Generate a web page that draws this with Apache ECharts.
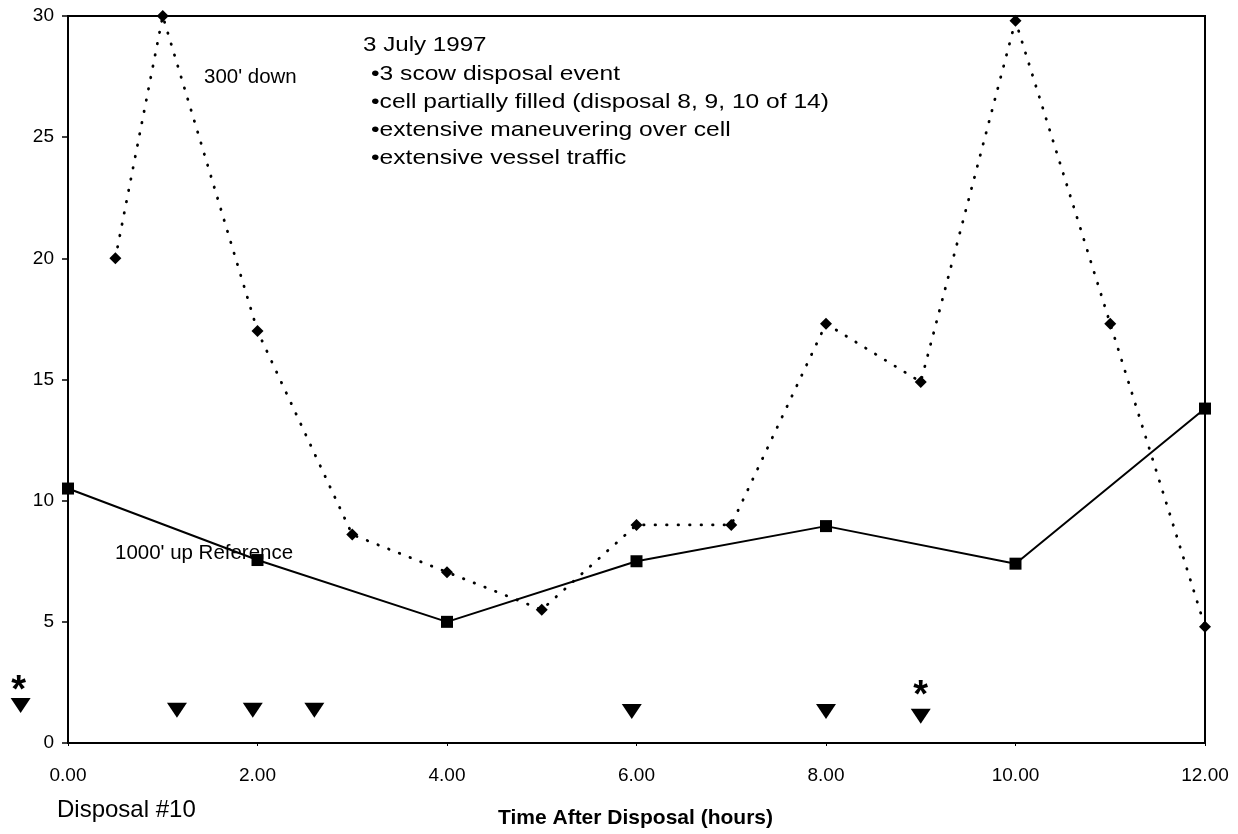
<!DOCTYPE html>
<html>
<head>
<meta charset="utf-8">
<script src="https://cdn.jsdelivr.net/npm/echarts@6/dist/echarts.min.js"></script>
<style>
  html, body { margin: 0; padding: 0; background: #fff; }
  #chart { width: 1238px; height: 834px; }
</style>
</head>
<body>
<div id="chart"></div>
<script>
// ---- data ----
const xTicks = [0, 2, 4, 6, 8, 10, 12];
const yTicks = [0, 5, 10, 15, 20, 25, 30];

const downHours = [0.5, 1, 2, 3, 4, 5, 6, 7, 8, 9, 10, 11, 12];
const downValues = [20, 30, 17, 8.6, 7.05, 5.5, 9.0, 9.0, 17.3, 14.9, 29.8, 17.3, 4.8];

const refHours = [0, 2, 4, 6, 8, 10, 12];
const refValues = [10.5, 7.55, 5.0, 7.5, 8.95, 7.4, 13.8];

const eventHours = [-0.5, 1.15, 1.95, 2.6, 5.95, 8.0, 9.0];
const eventValues = [1.55, 1.35, 1.35, 1.35, 1.3, 1.3, 1.1];

const starHours = [-0.52, 9.0];
const starValues = [2.45, 2.25];

const noteLines = [
  '3 July 1997',
  '\u20223 scow disposal event',
  '\u2022cell partially filled (disposal 8, 9, 10 of 14)',
  '\u2022extensive maneuvering over cell',
  '\u2022extensive vessel traffic'
];

const zip = (xs, ys) => xs.map((x, i) => [x, ys[i]]);
const FONT = '"Liberation Sans", Arial, Helvetica, sans-serif';

const chart = echarts.init(document.getElementById('chart'), null, { renderer: 'canvas' });

function txt(text, x, y, font, sx) {
  return {
    type: 'text', x: x, y: y, scaleX: sx || 1, z: 100,
    style: { text: text, font: font, fill: '#000', align: 'left', verticalAlign: 'top' }
  };
}

const graphics = [
  txt("300' down", 204, 68, '19.5px ' + FONT, 1.05),
  txt("1000' up Reference", 115, 544, '19.5px ' + FONT, 1.05),
  txt('Disposal #10', 57, 798, '24px ' + FONT, 1),
  txt('Time After Disposal (hours)', 498, 808, 'bold 21px ' + FONT, 1)
];
const noteTops = [35, 64, 92, 120, 147.5];
noteLines.forEach((t, i) => {
  graphics.push(txt(t, i === 0 ? 363 : 371, noteTops[i], '21px ' + FONT, i === 0 ? 1.15 : 1.17));
});

const option = {
  animation: false,
  backgroundColor: '#fff',
  grid: {
    left: 68, right: 33, top: 16, bottom: 91,
    show: true, borderColor: '#000', borderWidth: 2, backgroundColor: 'transparent'
  },
  xAxis: {
    type: 'value', min: 0, max: 12, interval: 2,
    axisLine: { show: true, onZero: false, lineStyle: { color: '#000', width: 2 } },
    axisTick: { show: true, length: 3, lineStyle: { color: '#000' } },
    axisLabel: { color: '#000', fontSize: 19, fontFamily: FONT, margin: 23,
      formatter: v => v.toFixed(2) },
    splitLine: { show: false }
  },
  yAxis: {
    type: 'value', min: 0, max: 30, interval: 5,
    axisLine: { show: true, onZero: false, lineStyle: { color: '#000', width: 2 } },
    axisTick: { show: true, length: 6, lineStyle: { color: '#000', width: 1.5 } },
    axisLabel: { color: '#000', fontSize: 19, fontFamily: FONT, margin: 14 },
    splitLine: { show: false }
  },
  series: [
    {
      name: "300' down", type: 'line', clip: false,
      data: zip(downHours, downValues),
      symbol: 'diamond', symbolSize: 12,
      itemStyle: { color: '#000', opacity: 1 },
      lineStyle: { color: '#000', width: 2.8, type: [0.5, 11], cap: 'round' }
    },
    {
      name: "1000' up Reference", type: 'line', clip: false,
      data: zip(refHours, refValues),
      symbol: 'rect', symbolSize: 12,
      itemStyle: { color: '#000', opacity: 1 },
      lineStyle: { color: '#000', width: 2 }
    },
    {
      name: 'events', type: 'scatter', clip: false,
      data: zip(eventHours, eventValues),
      symbol: 'path://M0,0 L20,0 L10,15 Z', symbolSize: [20, 15],
      itemStyle: { color: '#000', opacity: 1 }
    },
    {
      name: 'stars', type: 'scatter', clip: false,
      data: zip(starHours, starValues),
      symbolSize: 1, itemStyle: { color: '#fff', opacity: 0 },
      label: { show: true, position: 'inside', formatter: '*', color: '#000', opacity: 1,
        fontSize: 38, fontWeight: 'bold', fontFamily: FONT, offset: [0, 8] }
    }
  ],
  graphic: graphics
};
chart.setOption(option);
</script>
</body>
</html>
